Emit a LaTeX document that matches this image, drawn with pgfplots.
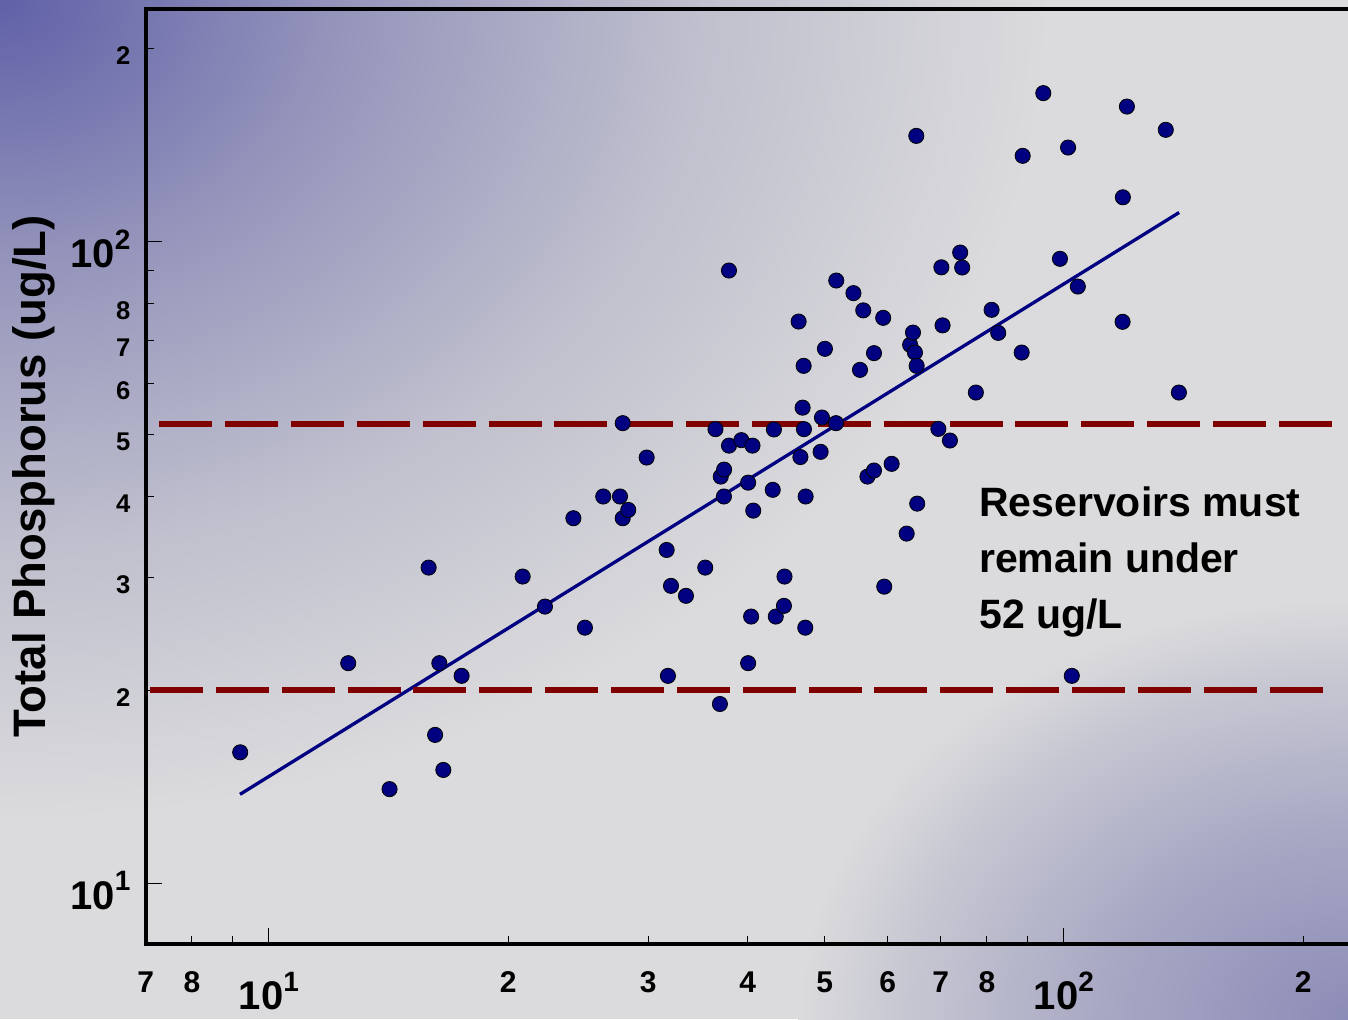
\documentclass[border=0pt]{standalone}
\usepackage{pgfplots}
\pgfplotsset{compat=1.18}
\usepackage{fontspec}
\setmainfont{Liberation Sans}
\definecolor{bggray}{RGB}{219,219,221}
\definecolor{tlA}{RGB}{96,96,168}
\definecolor{tlB}{RGB}{150,150,188}
\definecolor{tlC}{RGB}{192,192,206}
\definecolor{brA}{RGB}{140,140,184}
\definecolor{brB}{RGB}{168,168,196}
\definecolor{brC}{RGB}{198,198,210}
\definecolor{navy}{RGB}{0,0,128}
\definecolor{darkred}{RGB}{128,0,0}
\pgfdeclareradialshading{tlshade}{\pgfpointorigin}{color(0bp)=(tlA); color(8.25bp)=(tlB); color(16.75bp)=(tlC); color(25bp)=(bggray); color(50bp)=(bggray)}
\pgfdeclareradialshading{brshade}{\pgfpointorigin}{color(0bp)=(brA); color(11.25bp)=(brB); color(20bp)=(brC); color(25bp)=(bggray); color(50bp)=(bggray)}
\newcommand{\tenpow}[1]{{\fontsize{20pt}{20pt}\selectfont 10}\raisebox{9.1pt}{\fontsize{14pt}{14pt}\selectfont #1}}

\pgfplotstableread{
x y
9.20 16.0
12.58 22.03
14.18 14.02
15.88 31.04
16.18 17.03
16.38 22.03
16.57 15.02
17.47 21.05
20.85 30.06
22.24 26.99
24.15 37.06
24.97 25.02
26.33 40.06
27.64 40.06
27.86 37.06
27.86 52.12
28.31 38.18
29.86 46.07
31.64 33.07
31.76 21.05
32.04 29.07
33.46 28.05
35.38 31.04
36.45 51.01
36.92 19.03
37.01 43.03
37.37 44.12
37.35 40.06
37.90 48.08
37.90 90.12
39.29 49.04
40.06 42.10
40.06 22.03
40.41 26.04
40.66 38.09
40.57 48.08
43.02 41.03
43.17 50.95
43.40 26.04
44.44 27.06
44.51 30.06
46.37 75.06
46.61 46.15
46.91 55.10
47.05 64.02
47.09 51.01
47.27 25.02
47.32 40.06
49.42 47.02
49.61 53.18
50.04 68.05
51.71 86.94
51.67 52.12
54.35 83.10
55.39 63.10
55.92 78.13
56.60 43.03
57.68 67.01
57.68 43.97
59.24 76.06
59.42 28.99
60.71 45.04
63.41 35.07
64.05 69.03
64.58 72.14
64.95 67.15
65.27 64.02
65.20 146.1
65.38 39.05
69.51 51.06
70.12 91.16
70.36 74.03
71.87 48.97
74.04 96.13
74.47 91.10
77.49 58.17
81.09 78.27
82.66 72.06
88.47 67.15
88.73 136.0
94.19 170.3
98.85 93.98
101.2 140.1
102.3 21.05
104.1 85.09
118.6 117.2
118.5 74.98
120.0 162.3
134.3 149.3
139.5 58.17
}\pointdata

\begin{document}
\begin{tikzpicture}
\useasboundingbox (-72.9pt,-37.5pt) rectangle (601.1pt,472pt);
\begin{scope}
\clip (-72.9pt,-37.5pt) rectangle (601.1pt,472pt);
\fill[bggray] (-72.9pt,-37.5pt) rectangle (601.1pt,472pt);
\shade[shading=tlshade] (-72.9pt,472pt) ellipse (525pt and 410pt);
\shade[shading=brshade] (601.1pt,-37.5pt) ellipse (275pt and 210pt);
\end{scope}
\begin{axis}[
  at={(0pt,0pt)}, anchor=south west,
  scale only axis,
  width=601.35pt, height=467.6pt,
  xmode=log, ymode=log,
  xmin=7, xmax=228, ymin=8.043, ymax=230.5,
  axis lines*=left,
  axis line style={line width=1.75pt, black, line cap=rect},
  clip=false,
  tick pos=left,
  tick align=inside,
  xtick={7,8,9,20,30,40,50,60,70,80,90,200},
  xticklabels={7,8,,2,3,4,5,6,7,8,,2},
  ytick={20,30,40,50,60,70,80,90,200},
  yticklabels={2,3,4,5,6,7,8,,2},
  extra x ticks={10,100},
  extra x tick labels={\tenpow{1},\tenpow{2}},
  extra y ticks={10,100},
  extra y tick labels={\tenpow{1},\tenpow{2}},
  extra x tick style={major tick length=8pt},
  extra y tick style={major tick length=8pt},
  major tick length=4.25pt,
  tick style={line width=0.5pt, black},
  xticklabel style={anchor=north, inner sep=0pt, yshift=-13.75pt, font=\bfseries\fontsize{15pt}{15pt}\selectfont},
  yticklabel style={anchor=east, inner sep=0pt, xshift=-7.5pt, yshift=-3.6pt, font=\bfseries\fontsize{12.8pt}{13pt}\selectfont},
  ylabel={Total Phosphorus (ug/L)},
  ylabel style={at={(axis description cs:-0.0838,0.5)}, anchor=base, inner sep=0pt, font=\bfseries\fontsize{22.75pt}{23pt}\selectfont},
]
\addplot[only marks, mark=*, mark size=3.8pt, mark options={draw=none, fill=navy}] table[x=x, y=y] {\pointdata};
\addplot[navy, line width=1.65pt, no marks] coordinates {(9.195,13.76) (139.6,110.97)};
\addplot[darkred, line width=3pt, dash pattern=on 26.5pt off 6.43pt, no marks] coordinates {(7.278,52) (217.7,52)};
\addplot[darkred, line width=3pt, dash pattern=on 26.5pt off 6.43pt, no marks] coordinates {(7.085,20) (211.6,20)};
\draw[line width=1.75pt, line cap=rect] (rel axis cs:0,1) -- (rel axis cs:1.01,1);
\end{axis}
\node[anchor=base west, inner sep=0pt, font=\bfseries\fontsize{20.5pt}{28pt}\selectfont] at (416.5pt,214pt) {Reservoirs must};
\node[anchor=base west, inner sep=0pt, font=\bfseries\fontsize{20.5pt}{28pt}\selectfont] at (416.5pt,185.65pt) {remain under};
\node[anchor=base west, inner sep=0pt, font=\bfseries\fontsize{20.5pt}{28pt}\selectfont] at (416.5pt,157.85pt) {52 ug/L};
\end{tikzpicture}
\end{document}
